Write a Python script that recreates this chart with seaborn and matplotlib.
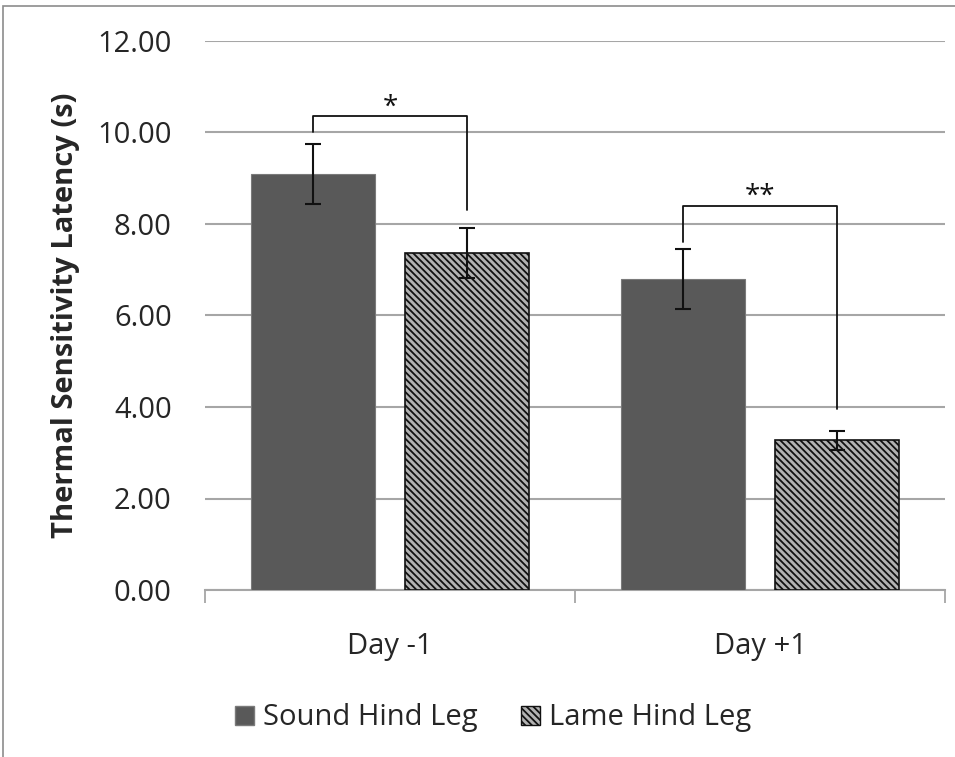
import matplotlib
matplotlib.use("Agg")
import matplotlib.pyplot as plt
import matplotlib.patches as mpatches
import seaborn as sns
import pandas as pd
import numpy as np

days = ["Day -1", "Day +1"]
groups = ["Sound Hind Leg", "Lame Hind Leg"]
sound_vals = [9.09, 6.80]
lame_vals = [7.36, 3.27]
sound_err = [0.65, 0.65]
lame_err = [0.55, 0.21]
y_ticks = [0, 2, 4, 6, 8, 10, 12]
sig_labels = ["*", "**"]
sig_heights = [10.35, 8.4]
sig_left_low = [10.0, 7.6]
sig_right_low = [8.3, 3.96]

df = pd.DataFrame({
    "day": days * 2,
    "group": [groups[0]] * 2 + [groups[1]] * 2,
    "value": sound_vals + lame_vals,
})

sns.set_theme(style="white")
plt.rcParams['font.family'] = ['Open Sans', 'DejaVu Sans']
plt.rcParams['hatch.color'] = '#848484'
plt.rcParams['hatch.linewidth'] = 1.3

FS = 21
fig = plt.figure(figsize=(9.55, 7.57), dpi=100)
ax = fig.add_axes([205/955, 1-590/757, 740/955, 549/757])

lame_face = "#b2b2b2"
sns.barplot(data=df, x="day", y="value", hue="group", order=days, hue_order=groups,
            palette=["#595959", lame_face], width=0.833, gap=0.195, errorbar=None,
            ax=ax, legend=False, zorder=3)

patches = ax.patches
sound_patches = patches[:2]
lame_patches = patches[2:4]
for p in sound_patches:
    p.set_edgecolor("#7a7a7a")
    p.set_linewidth(0.8)
for p in lame_patches:
    p.set_hatch("\\\\\\\\\\")
    p.set_edgecolor("#111111")
    p.set_linewidth(1.2)

# error bars
for plist, errs in [(sound_patches, sound_err), (lame_patches, lame_err)]:
    for p, e in zip(plist, errs):
        cx = p.get_x() + p.get_width() / 2
        ax.errorbar(cx, p.get_height(), yerr=e, fmt="none", ecolor="#111111",
                    elinewidth=1.5, capsize=6, capthick=1.5, zorder=5)

# significance brackets
for i in range(2):
    lp, rp = sound_patches[i], lame_patches[i]
    lx = lp.get_x() + lp.get_width() / 2
    rx = rp.get_x() + rp.get_width() / 2
    h = sig_heights[i]
    ax.plot([lx, lx, rx, rx], [sig_left_low[i], h, h, sig_right_low[i]],
            color="#111111", lw=1.3, zorder=6, clip_on=False)
    ax.text((lx + rx) / 2, h - 0.12, sig_labels[i], ha="center", va="bottom",
            fontsize=20, color="#111111", zorder=6)

ax.set_ylim(0, 12)
ax.set_xlim(-0.5, 1.5)
ax.set_yticks(y_ticks)
ax.set_yticklabels([f"{v:.2f}" for v in y_ticks], fontsize=FS)
ax.yaxis.grid(True, color="#a6a6a6", linewidth=1.5, zorder=0)
ax.set_axisbelow(True)
ax.tick_params(axis="x", labelsize=FS, length=0, pad=30)
ax.tick_params(axis="y", length=0, pad=24)
ax.set_xticks([-0.5, 0.5, 1.5], minor=True)
ax.tick_params(axis="x", which="minor", length=9, color="#a6a6a6", width=1.3, direction="out")
ax.xaxis.set_tick_params(which="minor", bottom=True)
for s in ["top", "right", "left"]:
    ax.spines[s].set_visible(False)
ax.spines["bottom"].set_color("#a6a6a6")
ax.spines["bottom"].set_linewidth(1.5)
ax.set_xlabel("")
ax.set_ylabel("Thermal Sensitivity Latency (s)", fontsize=21, fontweight="bold", labelpad=12)

handles = [mpatches.Patch(facecolor="#595959", edgecolor="#7a7a7a", label=groups[0]),
           mpatches.Patch(facecolor=lame_face, edgecolor="#111111", hatch="\\\\\\\\\\", label=groups[1])]
fig.legend(handles=handles, loc="center", bbox_to_anchor=(493/955, 1-718/757), ncol=2,
           frameon=False, fontsize=FS, handlelength=0.65, handleheight=0.65,
           handletextpad=0.3, columnspacing=1.5)

# outer chart border
fig.add_artist(mpatches.Rectangle((3/955, -0.1), 1.2, 1 - 6/757 + 0.1, transform=fig.transFigure,
                                  fill=False, edgecolor="#8c8c8c", linewidth=1.2))

fig.savefig("out.png", dpi=100)
